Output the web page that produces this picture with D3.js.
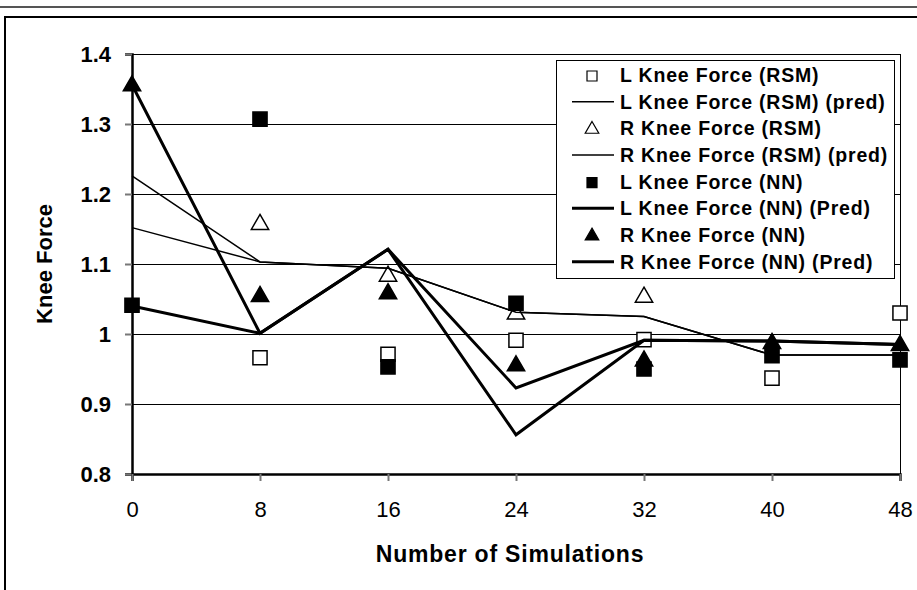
<!DOCTYPE html>
<html>
<head>
<meta charset="utf-8">
<script src="https://cdn.jsdelivr.net/npm/d3@7"></script>
<style>
  html, body { margin: 0; padding: 0; background: #fff; }
  svg { display: block; }
  text { font-family: Arial, "Liberation Sans", sans-serif; fill: #000; }
</style>
</head>
<body>
<svg id="chart" width="917" height="590"></svg>
<script>
// Simulation counts on the x axis and tick labels
const simulations = [0, 8, 16, 24, 32, 40, 48];
const xTickValues = [0, 8, 16, 24, 32, 40, 48];
const yTickValues = [0.8, 0.9, 1.0, 1.1, 1.2, 1.3, 1.4];
const yTickLabels = ["0.8", "0.9", "1", "1.1", "1.2", "1.3", "1.4"];

// Knee force series (null where no point is shown)
const lKneeRSM     = [null, 0.966, 0.971, 0.991, 0.992, 0.937, 1.030];
const lKneeRSMPred = [1.226, 1.103, 1.094, 1.031, 1.025, 0.970, 0.970];
const rKneeRSM     = [null, 1.158, 1.084, 1.030, 1.054, null, null];
const rKneeRSMPred = [1.152, 1.103, 1.094, 1.031, 1.025, 0.970, 0.970];
const lKneeNN      = [1.041, 1.307, 0.953, 1.044, 0.950, 0.969, 0.963];
const lKneeNNPred  = [1.040, 1.001, 1.121, 0.923, 0.991, 0.990, 0.985];
const rKneeNN      = [1.356, 1.055, 1.059, 0.956, 0.963, 0.988, 0.985];
const rKneeNNPred  = [1.356, 1.001, 1.121, 0.856, 0.991, 0.990, 0.985];

const seriesNames = [
  "L Knee Force (RSM)", "L Knee Force (RSM) (pred)",
  "R Knee Force (RSM)", "R Knee Force (RSM) (pred)",
  "L Knee Force (NN)", "L Knee Force (NN) (Pred)",
  "R Knee Force (NN)", "R Knee Force (NN) (Pred)"
];

// Series table: drawing style per series
const series = [
  { name: seriesNames[0], values: lKneeRSM, kind: "marker", shape: "square", fill: "#fff" },
  { name: seriesNames[1], values: lKneeRSMPred, kind: "line", width: 1.5 },
  { name: seriesNames[2], values: rKneeRSM, kind: "marker", shape: "triangle", fill: "#fff" },
  { name: seriesNames[3], values: rKneeRSMPred, kind: "line", width: 1.5 },
  { name: seriesNames[4], values: lKneeNN, kind: "marker", shape: "square", fill: "#000" },
  { name: seriesNames[5], values: lKneeNNPred, kind: "line", width: 3 },
  { name: seriesNames[6], values: rKneeNN, kind: "marker", shape: "triangle", fill: "#000" },
  { name: seriesNames[7], values: rKneeNNPred, kind: "line", width: 3 }
];

const svg = d3.select("#chart");

// Outer frame
svg.append("line").attr("x1", 0).attr("x2", 917).attr("y1", 7).attr("y2", 7)
  .attr("stroke", "#555").attr("stroke-width", 2);
svg.append("rect").attr("x", 5).attr("y", 17).attr("width", 930).attr("height", 600)
  .attr("fill", "none").attr("stroke", "#000").attr("stroke-width", 2);

const plot = { left: 132, right: 900, top: 54, bottom: 474 };

const x = d3.scaleLinear().domain([0, 48]).range([plot.left, plot.right]);
const y = d3.scaleLinear().domain([0.8, 1.4]).range([plot.bottom, plot.top]);

// Horizontal gridlines
svg.append("g").selectAll("line").data(yTickValues.slice(1)).join("line")
  .attr("x1", plot.left).attr("x2", plot.right)
  .attr("y1", d => Math.round(y(d)) + 0.5).attr("y2", d => Math.round(y(d)) + 0.5)
  .attr("stroke", "#000").attr("stroke-width", 1);

// Right border of the plot area
svg.append("line").attr("x1", plot.right + 0.5).attr("x2", plot.right + 0.5)
  .attr("y1", plot.top).attr("y2", plot.bottom)
  .attr("stroke", "#000").attr("stroke-width", 1);

// Y axis
const yAxis = d3.axisLeft(y).tickValues(yTickValues)
  .tickFormat((d, i) => yTickLabels[i]).tickSize(7).tickPadding(14);
const gy = svg.append("g").attr("transform", `translate(${plot.left},0)`).call(yAxis);
gy.select(".domain").attr("stroke", "#000").attr("stroke-width", 2.5);
gy.selectAll(".tick line").attr("stroke", "#777").attr("stroke-width", 2);
gy.selectAll(".tick text").style("font-size", "22px").style("font-weight", "bold")
  .style("font-family", "Arial, 'Liberation Sans', sans-serif").attr("fill", "#000");

// X axis
const xAxis = d3.axisBottom(x).tickValues(xTickValues)
  .tickFormat(d3.format("d")).tickSize(7).tickPadding(20);
const gx = svg.append("g").attr("transform", `translate(0,${plot.bottom})`).call(xAxis);
gx.select(".domain").attr("stroke", "#000").attr("stroke-width", 2.5);
gx.selectAll(".tick line").attr("stroke", "#777").attr("stroke-width", 2);
gx.selectAll(".tick text").style("font-size", "22px")
  .style("font-family", "Arial, 'Liberation Sans', sans-serif").attr("fill", "#000");

// Axis titles
svg.append("text").attr("x", 510).attr("y", 562)
  .attr("text-anchor", "middle").style("font-size", "23px").style("font-weight", "bold")
  .style("letter-spacing", "0.8px")
  .text("Number of Simulations");
svg.append("text").attr("transform", `translate(52,${(plot.top + plot.bottom) / 2}) rotate(-90)`)
  .attr("text-anchor", "middle").style("font-size", "22px").style("font-weight", "bold")
  .text("Knee Force");

// Marker symbols
const squareSym = d3.symbol().type(d3.symbolSquare).size(200);
const triangleSym = d3.symbol().type(d3.symbolTriangle).size(130);
function drawMarker(g, shape, fill, cx, cy) {
  g.append("path")
    .attr("d", shape === "square" ? squareSym() : triangleSym())
    .attr("transform", `translate(${cx},${cy + (shape === "triangle" ? 1 : 0)})`)
    .attr("fill", fill).attr("stroke", "#000").attr("stroke-width", 1.5);
}

const lineGen = d3.line()
  .defined(d => d.v !== null)
  .x(d => x(d.s)).y(d => y(d.v));

const marks = svg.append("g");
series.forEach(s => {
  const pts = simulations.map((sv, i) => ({ s: sv, v: s.values[i] }));
  if (s.kind === "line") {
    marks.append("path").datum(pts).attr("d", lineGen)
      .attr("fill", "none").attr("stroke", "#000").attr("stroke-width", s.width)
      .attr("stroke-linejoin", "miter");
  } else {
    pts.filter(p => p.v !== null).forEach(p => drawMarker(marks, s.shape, s.fill, x(p.s), y(p.v)));
  }
});

// Legend
const legend = svg.append("g");
legend.append("rect").attr("x", 556.5).attr("y", 60.5).attr("width", 338).attr("height", 218)
  .attr("fill", "#fff").attr("stroke", "#000").attr("stroke-width", 1);
series.forEach((s, i) => {
  const cy = 75 + i * 26.67;
  if (s.kind === "line") {
    legend.append("line").attr("x1", 572).attr("x2", 614).attr("y1", cy).attr("y2", cy)
      .attr("stroke", "#000").attr("stroke-width", s.width);
  } else {
    legend.append("path")
      .attr("d", s.shape === "square" ? d3.symbol().type(d3.symbolSquare).size(100)() : d3.symbol().type(d3.symbolTriangle).size(80)())
      .attr("transform", `translate(592,${cy + 1})`)
      .attr("fill", s.fill).attr("stroke", "#000").attr("stroke-width", 1.2);
  }
  legend.append("text").attr("x", 620).attr("y", cy).attr("dy", "0.36em")
    .style("font-size", "19.5px").style("font-weight", "bold").style("letter-spacing", "0.8px")
    .text(s.name);
});
</script>
</body>
</html>
